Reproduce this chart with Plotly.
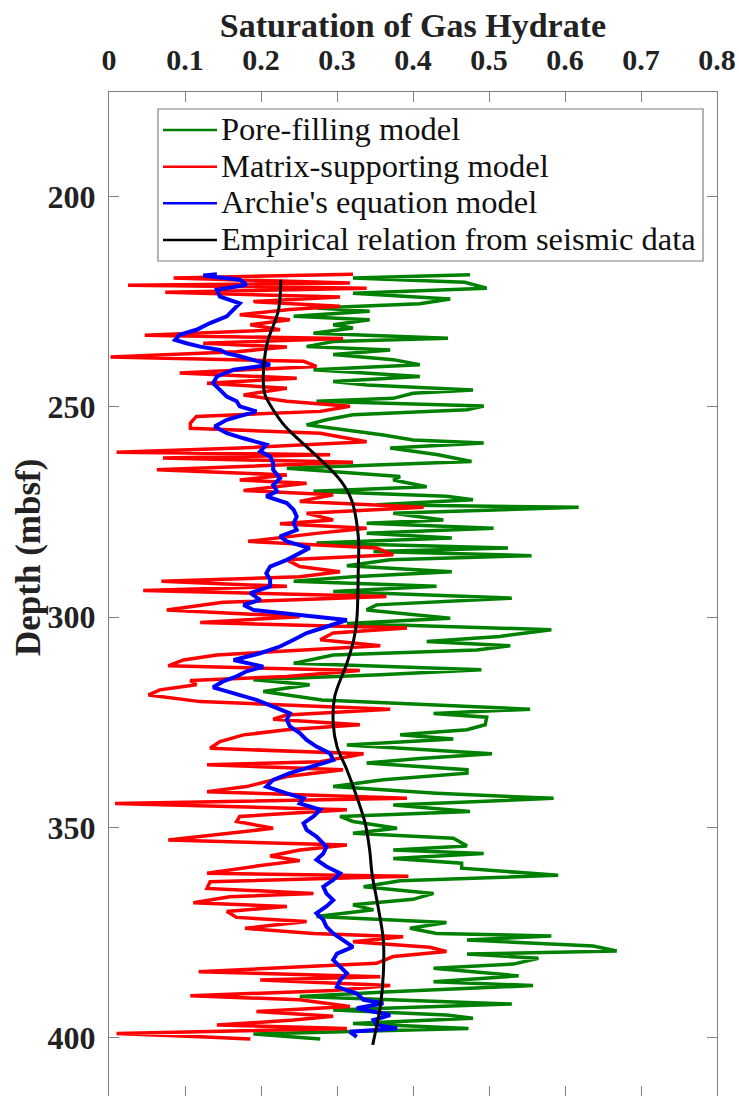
import plotly.graph_objects as go

# ---------------- data (depth in mbsf, saturation fraction) ----------------
pore_depth = [218.6, 219.4, 220.4, 221.8, 223.0, 224.4, 225.5, 226.5, 227.3, 228.5,
              229.3, 230.5, 231.3, 232.5, 233.7, 234.5, 235.7, 236.5, 237.6, 238.8,
              240.0, 241.2, 242.8, 244.0, 244.8, 246.0, 246.8, 248.0, 248.7, 249.8,
              250.7, 251.9, 253.1, 254.3, 256.7, 257.9, 258.6, 259.8, 261.4, 263.0,
              264.6, 266.6, 267.4, 269.0, 270.1, 271.3, 272.1, 273.3, 273.9, 275.3,
              276.9, 277.7, 278.9, 280.1, 281.2, 282.4, 283.6, 284.4, 285.4, 286.4,
              287.8, 289.2, 290.4, 291.5, 292.7, 293.9, 295.5, 297.1, 298.3, 300.3,
              301.5, 303.0, 304.6, 305.8, 306.8, 307.8, 309.0, 311.0, 312.5, 313.7,
              314.9, 316.1, 317.7, 319.7, 321.9, 322.9, 323.8, 325.6, 326.8, 328.0,
              329.0, 330.4, 332.5, 333.6, 334.7, 336.3, 337.1, 338.7, 340.3, 341.9,
              343.1, 344.7, 346.2, 347.4, 348.6, 350.2, 351.4, 352.6, 354.4, 355.4,
              356.2, 357.4, 358.5, 359.7, 361.4, 362.7, 364.1, 365.7, 367.1, 368.4,
              369.6, 371.2, 372.6, 374.0, 375.2, 375.8, 376.8, 378.2, 379.4, 380.1,
              381.1, 382.5, 383.5, 385.3, 386.7, 387.6, 389.1, 390.2, 392.0, 393.4,
              394.6, 395.4, 396.6, 397.8, 399.1, 400.3]
pore_sat = [0.475, 0.321, 0.468, 0.497, 0.321, 0.449, 0.409, 0.273, 0.343, 0.243,
            0.343, 0.295, 0.321, 0.269, 0.446, 0.295, 0.260, 0.370, 0.295, 0.374,
            0.409, 0.269, 0.409, 0.295, 0.339, 0.479, 0.400, 0.374, 0.273, 0.493,
            0.471, 0.321, 0.286, 0.260, 0.361, 0.400, 0.493, 0.370, 0.433, 0.477,
            0.234, 0.383, 0.374, 0.418, 0.269, 0.444, 0.479, 0.352, 0.618, 0.374,
            0.440, 0.339, 0.506, 0.339, 0.451, 0.273, 0.525, 0.348, 0.556, 0.370,
            0.313, 0.451, 0.321, 0.243, 0.431, 0.295, 0.530, 0.352, 0.339, 0.449,
            0.313, 0.582, 0.514, 0.418, 0.528, 0.484, 0.295, 0.243, 0.490, 0.357,
            0.190, 0.264, 0.203, 0.280, 0.554, 0.427, 0.497, 0.495, 0.471, 0.383,
            0.453, 0.313, 0.504, 0.409, 0.339, 0.471, 0.471, 0.361, 0.295, 0.431,
            0.585, 0.374, 0.475, 0.304, 0.321, 0.379, 0.321, 0.453, 0.471, 0.374,
            0.493, 0.374, 0.464, 0.464, 0.591, 0.383, 0.335, 0.427, 0.400, 0.321,
            0.348, 0.273, 0.444, 0.396, 0.431, 0.582, 0.471, 0.637, 0.668, 0.471,
            0.565, 0.532, 0.427, 0.539, 0.427, 0.558, 0.370, 0.251, 0.530, 0.295,
            0.444, 0.479, 0.321, 0.473, 0.190, 0.278]

matrix_depth = [218.5, 219.4, 220.6, 221.1, 221.8, 222.8, 223.9, 225.0, 226.1, 226.9,
                228.1, 229.3, 230.5, 231.7, 233.0, 233.8, 234.9, 235.8, 236.9, 238.2,
                239.2, 240.4, 242.0, 243.2, 244.4, 245.6, 247.2, 248.7, 249.9, 251.1,
                252.3, 253.9, 255.1, 256.3, 258.3, 259.8, 260.8, 261.4, 262.2, 263.2,
                265.0, 266.2, 267.4, 268.2, 269.9, 270.9, 272.5, 273.9, 275.3, 276.9,
                277.8, 278.9, 280.1, 282.0, 283.6, 285.2, 286.4, 288.0, 289.2, 290.4,
                291.5, 292.7, 293.7, 295.1, 296.5, 298.3, 299.9, 301.3, 302.6, 303.8,
                305.4, 306.8, 309.0, 310.2, 311.6, 312.7, 314.1, 315.1, 316.1, 317.3,
                318.5, 320.1, 321.9, 323.3, 324.3, 325.6, 326.8, 328.0, 329.6, 331.2,
                332.5, 334.4, 335.1, 336.3, 337.9, 340.3, 341.5, 343.1, 344.3, 345.8,
                347.4, 348.6, 350.2, 351.4, 353.0, 354.2, 355.4, 356.8, 357.9, 359.2,
                360.9, 361.6, 362.9, 364.5, 365.7, 366.5, 367.9, 368.8, 370.0, 371.4,
                372.4, 374.0, 375.2, 376.0, 377.2, 378.5, 379.5, 380.7, 382.3, 384.3,
                385.5, 386.3, 387.6, 388.8, 390.0, 391.0, 392.6, 393.8, 394.9, 395.8,
                397.0, 397.8, 399.0, 399.8, 400.3]
matrix_sat = [0.321, 0.085, 0.317, 0.025, 0.339, 0.074, 0.304, 0.190, 0.304, 0.238,
              0.172, 0.238, 0.186, 0.225, 0.047, 0.308, 0.124, 0.234, 0.168, 0.002,
              0.256, 0.273, 0.093, 0.247, 0.129, 0.234, 0.177, 0.234, 0.317, 0.278,
              0.115, 0.107, 0.107, 0.278, 0.339, 0.172, 0.010, 0.291, 0.071, 0.321,
              0.063, 0.234, 0.172, 0.260, 0.177, 0.295, 0.251, 0.414, 0.260, 0.295,
              0.225, 0.339, 0.273, 0.183, 0.352, 0.374, 0.234, 0.251, 0.304, 0.251,
              0.069, 0.234, 0.045, 0.365, 0.150, 0.076, 0.251, 0.120, 0.392, 0.295,
              0.278, 0.357, 0.142, 0.098, 0.078, 0.330, 0.234, 0.107, 0.115, 0.067,
              0.052, 0.120, 0.370, 0.234, 0.216, 0.330, 0.234, 0.177, 0.146, 0.133,
              0.335, 0.278, 0.129, 0.308, 0.234, 0.181, 0.129, 0.392, 0.008, 0.313,
              0.172, 0.168, 0.216, 0.159, 0.078, 0.313, 0.251, 0.212, 0.251, 0.194,
              0.129, 0.394, 0.133, 0.129, 0.269, 0.159, 0.111, 0.234, 0.155, 0.168,
              0.260, 0.179, 0.269, 0.387, 0.321, 0.422, 0.444, 0.374, 0.352, 0.118,
              0.357, 0.199, 0.370, 0.295, 0.107, 0.251, 0.317, 0.194, 0.295, 0.243,
              0.142, 0.313, 0.010, 0.120, 0.186]

archie_depth = [218.5, 218.8, 219.8, 221.0, 222.2, 223.8, 225.4, 227.0, 228.5, 230.1,
                231.7, 232.9, 234.1, 234.9, 235.7, 236.5, 237.3, 238.0, 239.2, 240.0,
                241.2, 242.8, 244.4, 246.0, 247.6, 248.7, 249.9, 251.1, 252.3, 253.1,
                254.7, 256.3, 257.5, 259.0, 260.6, 261.8, 263.4, 265.0, 267.0, 268.6,
                270.1, 271.3, 272.9, 274.5, 276.1, 277.7, 279.3, 280.8, 282.0, 283.6,
                284.8, 286.4, 288.0, 289.6, 291.1, 292.7, 294.3, 295.9, 297.1, 298.3,
                299.5, 300.7, 302.3, 303.8, 305.4, 307.0, 308.6, 310.2, 311.8, 312.9,
                314.1, 315.3, 316.7, 318.1, 319.7, 321.3, 322.9, 324.4, 326.0, 327.6,
                329.2, 330.8, 332.4, 334.0, 335.5, 337.1, 338.7, 340.3, 341.9, 343.1,
                344.3, 345.8, 347.4, 349.0, 350.6, 352.2, 354.6, 356.2, 357.7, 359.3,
                360.9, 362.5, 364.1, 365.7, 367.3, 368.8, 370.4, 372.0, 373.6, 375.2,
                376.8, 378.4, 380.0, 381.5, 383.1, 384.7, 386.3, 387.9, 389.5, 391.0,
                391.8, 393.0, 394.6, 395.8, 397.0, 397.8, 398.6, 399.8]
archie_sat = [0.142, 0.124, 0.172, 0.181, 0.142, 0.146, 0.172, 0.164, 0.155, 0.133,
              0.115, 0.093, 0.087, 0.102, 0.120, 0.146, 0.155, 0.172, 0.194, 0.212,
              0.164, 0.142, 0.137, 0.146, 0.155, 0.168, 0.172, 0.194, 0.172, 0.155,
              0.139, 0.155, 0.177, 0.207, 0.199, 0.212, 0.216, 0.216, 0.225, 0.216,
              0.221, 0.207, 0.234, 0.243, 0.247, 0.243, 0.247, 0.225, 0.234, 0.264,
              0.251, 0.234, 0.212, 0.207, 0.212, 0.212, 0.186, 0.199, 0.177, 0.190,
              0.251, 0.313, 0.286, 0.260, 0.243, 0.225, 0.199, 0.164, 0.203, 0.181,
              0.168, 0.150, 0.137, 0.164, 0.194, 0.216, 0.238, 0.234, 0.238, 0.251,
              0.260, 0.273, 0.291, 0.295, 0.269, 0.238, 0.216, 0.207, 0.234, 0.256,
              0.251, 0.278, 0.269, 0.256, 0.260, 0.273, 0.286, 0.282, 0.273, 0.286,
              0.304, 0.295, 0.282, 0.286, 0.295, 0.286, 0.273, 0.282, 0.286, 0.295,
              0.308, 0.321, 0.300, 0.295, 0.304, 0.313, 0.304, 0.300, 0.326, 0.335,
              0.361, 0.326, 0.370, 0.348, 0.352, 0.379, 0.317, 0.326]

seismic_depth = [219.8, 227.0, 235.0, 243.0, 247.0, 250.7, 254.7, 261.0, 267.4, 272.1,
                 280.8, 288.8, 300.7, 305.4, 311.0, 318.9, 325.2, 330.8, 336.3, 342.7,
                 349.0, 355.4, 360.9, 368.8, 376.8, 384.7, 392.6, 397.4, 401.7]
seismic_sat = [0.226, 0.223, 0.208, 0.203, 0.205, 0.216, 0.232, 0.269, 0.304, 0.319,
               0.328, 0.328, 0.326, 0.322, 0.313, 0.297, 0.295, 0.300, 0.313, 0.326,
               0.337, 0.343, 0.346, 0.354, 0.361, 0.361, 0.357, 0.352, 0.347]

series_names = ["Pore-filling model", "Matrix-supporting model",
                "Archie's equation model", "Empirical relation from seismic data"]
series_colors = ["#008000", "#ff0000", "#0000ff", "#000000"]

x_ticks = [0, 0.1, 0.2, 0.3, 0.4, 0.5, 0.6, 0.7, 0.8]
x_ticklabels = ["0", "0.1", "0.2", "0.3", "0.4", "0.5", "0.6", "0.7", "0.8"]
y_ticks = [200, 250, 300, 350, 400]

# ---------------- figure ----------------
SERIF = "Liberation Serif, Times New Roman, serif"
AX = "#808080"
TXT = "#222222"

W, H = 739, 1096
PL, PR, PT, PB = 109, 717, 92, 1096      # plot-area pixel box


def px_x(p):
    return (p - PL) / (PR - PL)


def px_y(p):
    return (PB - p) / (PB - PT)


fig = go.Figure()
widths = [3.5, 3.5, 4, 3]
data = [(pore_sat, pore_depth), (matrix_sat, matrix_depth),
        (archie_sat, archie_depth), (seismic_sat, seismic_depth)]
for i, (xs, ys) in enumerate(data):
    line = dict(color=series_colors[i], width=widths[i])
    if i == 3:
        line.update(shape="spline", smoothing=1)
    fig.add_trace(go.Scatter(x=xs, y=ys, mode="lines", name=series_names[i], line=line,
                             showlegend=False))

# hand-built legend box (matches the reference's compact row spacing)
shapes = [dict(type="rect", xref="paper", yref="paper",
               x0=px_x(158), x1=px_x(703), y0=px_y(261), y1=px_y(109),
               line=dict(color=AX, width=1.2), fillcolor="white", layer="above")]
annotations = []
row_y = [130, 166.7, 203.3, 240]
for i, name in enumerate(series_names):
    shapes.append(dict(type="line", xref="paper", yref="paper",
                       x0=px_x(163), x1=px_x(217), y0=px_y(row_y[i]), y1=px_y(row_y[i]),
                       line=dict(color=series_colors[i], width=2.5), layer="above"))
    annotations.append(dict(text=name, xref="paper", yref="paper",
                            x=px_x(219), y=px_y(row_y[i] - 1), xanchor="left", yanchor="middle",
                            showarrow=False, font=dict(family=SERIF, size=32.5, color="#111111")))

annotations.append(dict(text="<b>Depth (mbsf)</b>", textangle=-90, xref="paper", yref="paper",
                        x=px_x(28), y=px_y(558), xanchor="center", yanchor="middle",
                        showarrow=False, font=dict(family=SERIF, size=35, color=TXT)))

fig.update_layout(
    width=W, height=H,
    margin=dict(l=PL, r=W - PR, t=PT, b=H - PB, pad=0),
    paper_bgcolor="white", plot_bgcolor="white",
    font=dict(family=SERIF, color=TXT),
    title=dict(text="<b>Saturation of Gas Hydrate</b>", x=0.5, xref="paper", xanchor="center",
               y=1 - 25 / H, yref="container", yanchor="middle",
               font=dict(family=SERIF, size=34, color=TXT)),
    xaxis=dict(side="top", range=[0, 0.8], tickvals=x_ticks, ticktext=x_ticklabels,
               ticks="inside", ticklen=10, tickcolor=AX, tickwidth=1,
               showline=True, linecolor=AX, linewidth=1, mirror="ticks",
               showgrid=False, zeroline=False,
               tickfont=dict(family=SERIF, size=30, color=TXT, weight="bold"),
               ticklabelstandoff=9),
    yaxis=dict(range=[413.86, 175.17], tickvals=y_ticks,
               ticks="inside", ticklen=10, tickcolor=AX, tickwidth=1,
               showline=True, linecolor=AX, linewidth=1, mirror="ticks",
               showgrid=False, zeroline=False,
               tickfont=dict(family=SERIF, size=32, color=TXT, weight="bold"),
               ticklabelstandoff=6),
    shapes=shapes,
    annotations=annotations,
    showlegend=False,
)

fig.write_html("out.html")
